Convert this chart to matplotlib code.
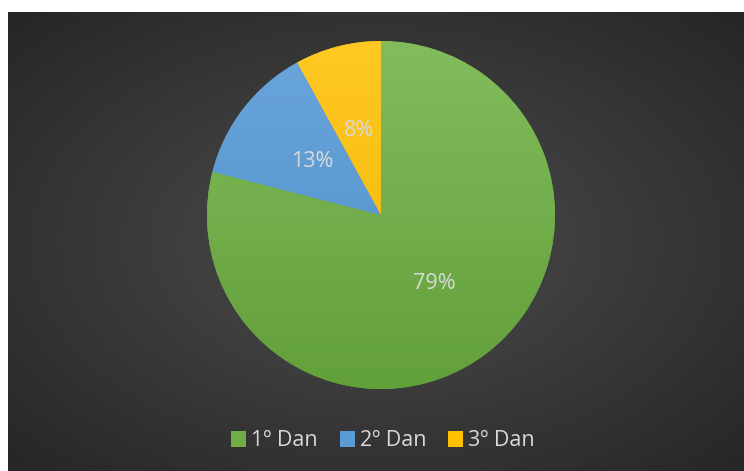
import numpy as np
import matplotlib.pyplot as plt
from matplotlib.colors import LinearSegmentedColormap

labels = ['1º Dan', '2º Dan', '3º Dan']
values = [79, 13, 8]
colors = ['#70AD47', '#5B9BD5', '#FFC000']
tops = ['#82BC5C', '#6AA6DC', '#FFC824']
bottoms = ['#62A03A', '#4E8DC8', '#F2B600']

plt.rcParams['font.family'] = ['Open Sans', 'DejaVu Sans']

fig = plt.figure(figsize=(7.44, 4.71), dpi=100)
fig.patch.set_facecolor('white')

# dark chart area with radial gradient
W, H = 744, 471
bg = fig.add_axes([8 / W, 0, 1 - 8 / W, 1 - 12 / H])
yy, xx = np.mgrid[0:200, 0:300]
d = np.sqrt(((xx - 150) / 150) ** 2 + ((yy - 100) / 100) ** 2) / np.sqrt(2)
cm = LinearSegmentedColormap.from_list('bg', ['#4d4d4d', '#262626'])
bg.imshow(d, cmap=cm, aspect='auto', extent=[0, 1, 0, 1], vmin=0, vmax=1)
bg.set_axis_off()

# pie
cx, cy, r = 381 / W, 1 - 215 / H, 174
ax = fig.add_axes([cx - r / W, cy - r / H, 2 * r / W, 2 * r / H])
wedges, texts, autotexts = ax.pie(values, colors=colors, startangle=90, counterclock=False,
                                  autopct='%1.0f%%', pctdistance=0.5,
                                  textprops={'color': '#d9d9d9', 'fontsize': 15.5})
ax.set_aspect('equal')
ax.set_xlim(-1, 1)
ax.set_ylim(-1, 1)

# vertical shading on each slice
grad = np.linspace(0, 1, 256).reshape(-1, 1)
for w, t, b in zip(wedges, tops, bottoms):
    cmap = LinearSegmentedColormap.from_list('g', [t, b])
    im = ax.imshow(grad, cmap=cmap, extent=[-1, 1, -1, 1], aspect='auto', zorder=w.get_zorder())
    im.set_clip_path(w)
for t in autotexts:
    t.set_zorder(5)

leg = fig.legend(wedges, labels, loc='center', bbox_to_anchor=(383 / W, 1 - 441 / H), ncol=3,
                 frameon=False, fontsize=15.5, labelcolor='#d9d9d9',
                 handlelength=0.7, handleheight=0.7, handletextpad=0.25, columnspacing=1.0)

fig.savefig('out.png', dpi=100, facecolor=fig.get_facecolor())
